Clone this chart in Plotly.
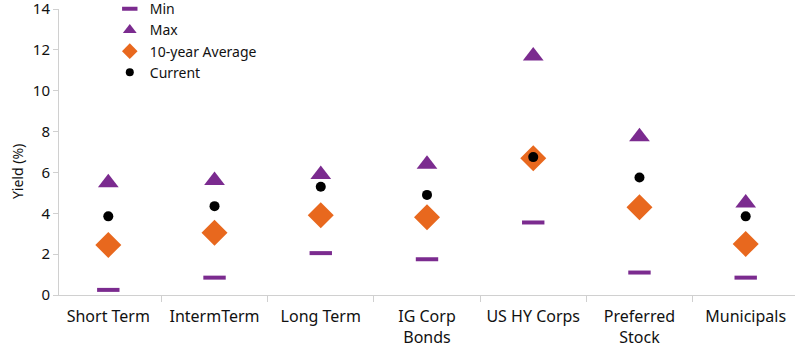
import plotly.graph_objects as go

categories = ["Short Term", "IntermTerm", "Long Term", "IG Corp<br>Bonds",
              "US HY Corps", "Preferred<br>Stock", "Municipals"]
min_vals = [0.25, 0.85, 2.05, 1.75, 3.55, 1.1, 0.85]
max_vals = [5.5, 5.6, 5.9, 6.4, 11.7, 7.75, 4.5]
avg_vals = [2.45, 3.05, 3.9, 3.8, 6.7, 4.3, 2.5]
cur_vals = [3.85, 4.35, 5.3, 4.9, 6.75, 5.75, 3.85]
series_names = ["Min", "Max", "10-year Average", "Current"]

purple = "#7B2B8F"
orange = "#E8681E"
font = "Noto Sans, sans-serif"

fig = go.Figure()
# data traces (not in legend)
fig.add_trace(go.Scatter(x=categories, y=min_vals, mode="markers", showlegend=False,
                         marker=dict(symbol="line-ew", size=16, color=purple,
                                     line=dict(width=4, color=purple))))
fig.add_trace(go.Scatter(x=categories, y=max_vals, mode="markers", showlegend=False,
                         marker=dict(symbol="triangle-up", size=18, color=purple)))
fig.add_trace(go.Scatter(x=categories, y=avg_vals, mode="markers", showlegend=False,
                         marker=dict(symbol="diamond", size=20, color=orange)))
fig.add_trace(go.Scatter(x=categories, y=cur_vals, mode="markers", showlegend=False,
                         marker=dict(symbol="circle", size=10, color="black")))
# legend entries with smaller markers
legend_markers = [
    dict(symbol="line-ew", size=11, color=purple, line=dict(width=4, color=purple)),
    dict(symbol="triangle-up", size=12, color=purple),
    dict(symbol="diamond", size=12, color=orange),
    dict(symbol="circle", size=8, color="black"),
]
for nm, mk in zip(series_names, legend_markers):
    fig.add_trace(go.Scatter(x=[None], y=[None], mode="markers", name=nm, marker=mk))

fig.update_layout(
    width=800, height=347,
    margin=dict(l=59, r=5, t=9, b=52, autoexpand=False),
    plot_bgcolor="white", paper_bgcolor="white",
    font=dict(family=font, size=16, color="#111"),
    showlegend=True,
    legend=dict(x=0.069, y=1.0555, xanchor="left", yanchor="top",
                font=dict(size=14), bgcolor="rgba(0,0,0,0)",
                itemwidth=30, tracegroupgap=0),
    xaxis=dict(type="category", showline=True, linecolor="#d0d0d0", linewidth=1,
               ticks="outside", tickson="boundaries", ticklen=6, tickcolor="#d0d0d0",
               showgrid=False, tickfont=dict(size=16), ticklabelstandoff=7,
               ticklabeloverflow="allow"),
    yaxis=dict(range=[0, 14], dtick=2, showline=True, linecolor="#d0d0d0", linewidth=1,
               ticks="outside", ticklen=5, tickcolor="#d0d0d0", showgrid=False,
               zeroline=False, tickfont=dict(size=15), ticklabeloverflow="allow"),
    annotations=[dict(text="Yield (%)", textangle=-90, xref="paper", yref="paper",
                      x=-0.057, y=0.43, xanchor="center", yanchor="middle",
                      showarrow=False, font=dict(size=14))],
)

fig.write_html("out.html")
